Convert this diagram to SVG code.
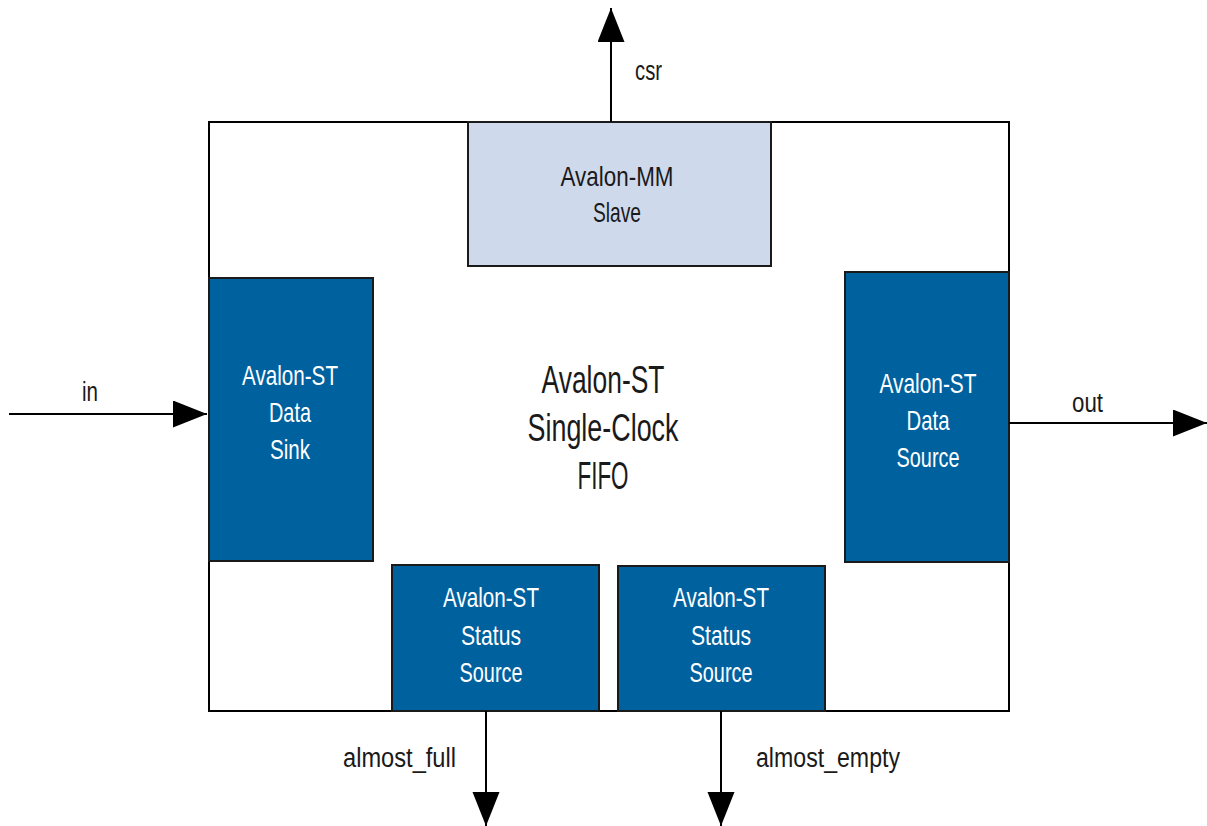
<svg xmlns="http://www.w3.org/2000/svg" width="1207" height="826" viewBox="0 0 1207 826">
<style>
.frame{fill:#ffffff;stroke:#000000;stroke-width:2}
.st{fill:#00619F;stroke:#1a1a1a;stroke-width:2}
.mm{fill:#CFD9EC;stroke:#1a1a1a;stroke-width:2}
.wt{font-family:"Liberation Sans",Arial,sans-serif;font-size:28px;fill:#ffffff;text-anchor:middle}
.bt{font-family:"Liberation Sans",Arial,sans-serif;font-size:28px;fill:#1a1a1a;text-anchor:middle}
.ct{font-family:"Liberation Sans",Arial,sans-serif;font-size:39px;fill:#1a1a1a;text-anchor:middle}
.lbl{font-family:"Liberation Sans",Arial,sans-serif;font-size:27px;fill:#1a1a1a}
.conn{stroke:#000000;stroke-width:2;fill:none}
</style>
<defs>
<marker id="ah" markerUnits="userSpaceOnUse" markerWidth="34" markerHeight="28" refX="34" refY="13.5" orient="auto">
<path d="M0,0 L34,13.5 L0,27 Z" fill="#000000"/>
</marker>
</defs>
<g id="fifo">
<rect class="frame" x="209" y="122" width="800" height="589"/>
<text class="ct" x="603" y="393" textLength="123" lengthAdjust="spacingAndGlyphs">Avalon-ST</text>
<text class="ct" x="603" y="441" textLength="151" lengthAdjust="spacingAndGlyphs">Single-Clock</text>
<text class="ct" x="603" y="489" textLength="51" lengthAdjust="spacingAndGlyphs">FIFO</text>
</g>
<g id="mm-slave">
<rect class="mm" x="468" y="122" width="303" height="144"/>
<text class="bt" x="617" y="186" textLength="113" lengthAdjust="spacingAndGlyphs">Avalon-MM</text>
<text class="bt" x="617" y="222" textLength="48" lengthAdjust="spacingAndGlyphs">Slave</text>
</g>
<g id="data-sink">
<rect class="st" x="209" y="278" width="164" height="283"/>
<text class="wt" x="290" y="385" textLength="96" lengthAdjust="spacingAndGlyphs">Avalon-ST</text>
<text class="wt" x="290" y="422" textLength="42" lengthAdjust="spacingAndGlyphs">Data</text>
<text class="wt" x="290" y="459" textLength="40" lengthAdjust="spacingAndGlyphs">Sink</text>
</g>
<g id="data-source">
<rect class="st" x="845" y="272" width="164" height="290"/>
<text class="wt" x="928" y="393" textLength="97" lengthAdjust="spacingAndGlyphs">Avalon-ST</text>
<text class="wt" x="928" y="430" textLength="43" lengthAdjust="spacingAndGlyphs">Data</text>
<text class="wt" x="928" y="467" textLength="63" lengthAdjust="spacingAndGlyphs">Source</text>
</g>
<g id="status-source-full">
<rect class="st" x="392" y="565" width="207" height="146"/>
<text class="wt" x="491" y="607" textLength="96" lengthAdjust="spacingAndGlyphs">Avalon-ST</text>
<text class="wt" x="491" y="645" textLength="60" lengthAdjust="spacingAndGlyphs">Status</text>
<text class="wt" x="491" y="682" textLength="63" lengthAdjust="spacingAndGlyphs">Source</text>
</g>
<g id="status-source-empty">
<rect class="st" x="618" y="566" width="207" height="145"/>
<text class="wt" x="721" y="607" textLength="96" lengthAdjust="spacingAndGlyphs">Avalon-ST</text>
<text class="wt" x="721" y="645" textLength="60" lengthAdjust="spacingAndGlyphs">Status</text>
<text class="wt" x="721" y="682" textLength="63" lengthAdjust="spacingAndGlyphs">Source</text>
</g>
<g id="connectors">
<line class="conn" x1="611" y1="122" x2="611" y2="8" marker-end="url(#ah)"/>
<line class="conn" x1="9" y1="414" x2="207" y2="414" marker-end="url(#ah)"/>
<line class="conn" x1="1009" y1="423" x2="1207" y2="423" marker-end="url(#ah)"/>
<line class="conn" x1="486" y1="711" x2="486" y2="826" marker-end="url(#ah)"/>
<line class="conn" x1="721" y1="711" x2="721" y2="826" marker-end="url(#ah)"/>
<text class="lbl" x="635" y="80" textLength="27" lengthAdjust="spacingAndGlyphs">csr</text>
<text class="lbl" x="82" y="401" textLength="16" lengthAdjust="spacingAndGlyphs">in</text>
<text class="lbl" x="1072" y="412" textLength="31" lengthAdjust="spacingAndGlyphs">out</text>
<text class="lbl" x="343" y="767" textLength="113" lengthAdjust="spacingAndGlyphs">almost_full</text>
<text class="lbl" x="756" y="767" textLength="144" lengthAdjust="spacingAndGlyphs">almost_empty</text>
</g>
</svg>
